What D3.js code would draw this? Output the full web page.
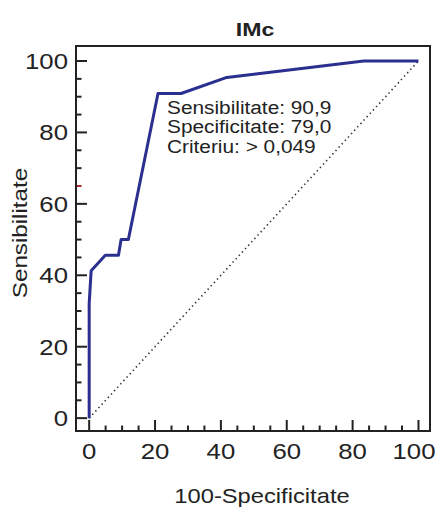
<!DOCTYPE html>
<html>
<head>
<meta charset="utf-8">
<script src="https://cdn.jsdelivr.net/npm/d3@7"></script>
<style>
  body { margin: 0; background: #fff; }
  text { font-family: "Liberation Sans", Arial, sans-serif; fill: #222; }
</style>
</head>
<body>
<div id="roc_container"></div>
<script>
// ROC curve points (100-Specificitate, Sensibilitate)
const fpr  = [0, 0, 0.6, 4.9, 8.9, 9.7, 11.9, 20.9, 27.9, 41.8, 83.4, 100];
const sens = [0, 32, 41.3, 45.6, 45.6, 50, 50, 90.9, 90.9, 95.4, 100, 100];
const xTicks = [0, 20, 40, 60, 80, 100];
const yTicks = [0, 20, 40, 60, 80, 100];
const noteLines = ["Sensibilitate: 90,9", "Specificitate: 79,0", "Criteriu: > 0,049"];

const width = 437, height = 507;
const frame = {left: 76, right: 430, top: 46, bottom: 431};
const stretch = 1.17;   // the original font runs wider than Arial

const svg = d3.select("#roc_container").append("svg")
    .attr("width", width)
    .attr("height", height);

// axis limits extend slightly beyond 0..100 like the original
const x = d3.scaleLinear().domain([-4, 103.5]).range([frame.left, frame.right]);
const y = d3.scaleLinear().domain([-3.6, 104.2]).range([frame.bottom, frame.top]);

// minor ticks every 5, major every 20, drawn inside the frame
const minor = d3.range(0, 101, 5);

svg.append("g").selectAll("line")
    .data(minor)
    .join("line")
    .attr("x1", frame.left)
    .attr("x2", d => frame.left + (d % 20 === 0 ? 11 : 5.5))
    .attr("y1", d => y(d))
    .attr("y2", d => y(d))
    .attr("stroke", d => d === 65 ? "#b02a2a" : "#222")
    .attr("stroke-width", 2);

svg.append("g").selectAll("line")
    .data(minor)
    .join("line")
    .attr("y1", frame.bottom)
    .attr("y2", d => frame.bottom - (d % 20 === 0 ? 11 : 5.5))
    .attr("x1", d => x(d))
    .attr("x2", d => x(d))
    .attr("stroke", "#222")
    .attr("stroke-width", 2);

// tick labels
svg.append("g").selectAll("text")
    .data(yTicks)
    .join("text")
    .attr("transform", d => `translate(${frame.left - 8},${y(d)}) scale(${stretch},1)`)
    .attr("dy", "0.36em")
    .attr("text-anchor", "end")
    .attr("font-size", 22)
    .text(d => d);

// last label is kept inside the page edge
svg.append("g").selectAll("text")
    .data(xTicks)
    .join("text")
    .attr("transform", d => `translate(${Math.min(x(d), width - 23)},459) scale(${stretch},1)`)
    .attr("text-anchor", "middle")
    .attr("font-size", 22)
    .text(d => d);

// diagonal reference line
svg.append("line")
    .attr("x1", x(0)).attr("y1", y(0))
    .attr("x2", x(100)).attr("y2", y(100))
    .attr("stroke", "#333")
    .attr("stroke-width", 1.6)
    .attr("stroke-dasharray", "1.4,3.2");

// ROC curve
const rocData = fpr.map((v, i) => ({x: v, y: sens[i]}));
const line = d3.line()
    .x(d => x(d.x))
    .y(d => y(d.y));

svg.append("path")
    .datum(rocData)
    .attr("fill", "none")
    .attr("stroke", "#2b2f8f")
    .attr("stroke-width", 3)
    .attr("stroke-linejoin", "round")
    .attr("d", line);

// frame
svg.append("rect")
    .attr("x", frame.left)
    .attr("y", frame.top)
    .attr("width", frame.right - frame.left)
    .attr("height", frame.bottom - frame.top)
    .attr("fill", "none")
    .attr("stroke", "#222")
    .attr("stroke-width", 2);

// annotation
svg.append("g").selectAll("text")
    .data(noteLines)
    .join("text")
    .attr("transform", (d, i) => `translate(167,${114 + i * 19.3}) scale(${stretch},1)`)
    .attr("font-size", 17.8)
    .text(d => d);

// titles
svg.append("text")
    .attr("transform", `translate(${(frame.left + frame.right) / 2 + 2},35.5) scale(1.25,1)`)
    .attr("text-anchor", "middle")
    .attr("font-size", 18.5)
    .attr("font-weight", "bold")
    .text("IMc");

svg.append("text")
    .attr("transform", `translate(262,503) scale(1.13,1)`)
    .attr("text-anchor", "middle")
    .attr("font-size", 21)
    .text("100-Specificitate");

svg.append("text")
    .attr("transform", "translate(27,233) rotate(-90) scale(1.18,1)")
    .attr("text-anchor", "middle")
    .attr("font-size", 20.5)
    .text("Sensibilitate");
</script>
</body>
</html>
